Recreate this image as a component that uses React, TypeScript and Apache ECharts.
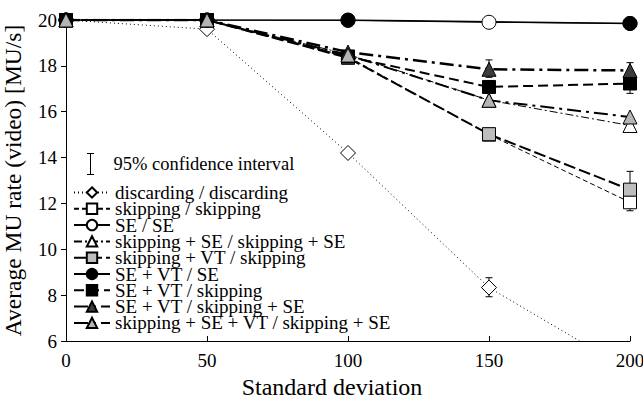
import React, { useEffect, useRef } from "react";
import * as echarts from "echarts";

const xValues = [0, 50, 100, 150, 200];
const xTicks = [0, 50, 100, 150, 200];
const yTicks = [6, 8, 10, 12, 14, 16, 18, 20];

const discarding = [20, 19.6, 14.2, 8.33, 4.7];
const skipping = [20, 20, 18.4, 15.0, 12.05];
const seSe = [20, 20, 19.98, 19.9, 19.85];
const skipSe = [20, 20, 18.5, 16.5, 15.4];
const skipVt = [20, 20, 18.35, 15.02, 12.6];
const seVtSe = [20, 20, 20, null, 19.85];
const seVtSkip = [20, 20, 18.4, 17.08, 17.23];
const seVtSkipSe = [20, 20, 18.6, 17.85, 17.8];
const skipSeVt = [20, 20, 18.47, 16.5, 15.77];

// [x, low, high]
const confidence = [
  [150, 7.93, 8.76],
  [200, 11.8, 13.4],
  [200, 11.68, 12.45],
  [200, 16.8, 17.65],
  [200, 17.45, 18.14],
  [150, 17.5, 18.26],
  [150, 16.8, 17.35],
];

const seriesNames = [
  "discarding / discarding",
  "skipping / skipping",
  "SE / SE",
  "skipping + SE / skipping + SE",
  "skipping + VT / skipping",
  "SE + VT / SE",
  "SE + VT / skipping",
  "SE + VT / skipping + SE",
  "skipping + SE + VT / skipping + SE",
];
const ciName = "95% confidence interval";

const FONT = "Liberation Serif";

export default function App() {
  const ref = useRef<HTMLDivElement>(null);
  useEffect(() => {
    if (!ref.current) return;
    const chart = echarts.init(ref.current, undefined, { renderer: "svg" });
    const pairs = (vals: (number | null)[]) => xValues.map((x, i) => [x, vals[i]]);
    const mk = (
      name: string,
      vals: (number | null)[],
      symbol: string,
      size: number,
      fill: string,
      line: any
    ) => ({
      name,
      type: "line",
      data: pairs(vals),
      symbol,
      symbolSize: size,
      connectNulls: true,
      itemStyle: { color: fill, borderColor: "#000", borderWidth: 1, opacity: 1 },
      lineStyle: { color: "#000", ...line },
      z: 3,
    });
    const option: any = {
      animation: false,
      backgroundColor: "#fff",
      textStyle: { fontFamily: FONT, color: "#000" },
      grid: {
        left: 66,
        right: 13,
        top: 20,
        bottom: 58,
        containLabel: false,
        outerBoundsMode: "none",
      },
      xAxis: {
        type: "value",
        min: 0,
        max: 200,
        interval: 50,
        name: "Standard deviation",
        nameLocation: "middle",
        nameGap: 31,
        nameTextStyle: { fontFamily: FONT, fontSize: 24, color: "#000", padding: [0, 32, 0, 0] },
        axisLine: { show: true, lineStyle: { color: "#000", width: 1 } },
        axisTick: { show: true, inside: true, length: 5, lineStyle: { color: "#000" } },
        axisLabel: {
          fontFamily: FONT,
          fontSize: 19,
          color: "#000",
          margin: 10,
          formatter: (v: number) => (xTicks.includes(v) ? String(v) : ""),
        },
        splitLine: { show: false },
      },
      yAxis: {
        type: "value",
        min: 6,
        max: 20,
        interval: 2,
        name: "Average MU rate (video) [MU/s]",
        nameLocation: "middle",
        nameGap: 41,
        nameTextStyle: { fontFamily: FONT, fontSize: 23.5, color: "#000" },
        axisLine: { show: true, lineStyle: { color: "#000", width: 1 } },
        axisTick: { show: true, inside: false, length: 5, lineStyle: { color: "#000" } },
        axisLabel: {
          fontFamily: FONT,
          fontSize: 19,
          color: "#000",
          margin: 9,
          formatter: (v: number) => (yTicks.includes(v) ? String(v) : ""),
        },
        splitLine: { show: false },
      },
      legend: [
        {
          data: [
            {
              name: ciName,
              icon: "path://M0,0H7V1H4V21H7V22H0V21H3V1H0Z",
            },
          ],
          orient: "vertical",
          left: 87,
          top: 153,
          padding: 0,
          itemWidth: 36,
          itemHeight: 22,
          itemGap: 0,
          itemTextGap: 5,
          selectedMode: false,
          textStyle: { fontFamily: FONT, fontSize: 18.5, color: "#000" },
        },
        {
          data: seriesNames,
          orient: "vertical",
          left: 73,
          top: 183,
          padding: 0,
          itemWidth: 36,
          itemHeight: 13,
          itemGap: -2.7,
          itemTextGap: 5,
          selectedMode: false,
          textStyle: { fontFamily: FONT, fontSize: 19, color: "#000" },
        },
      ],
      series: [
        {
          name: ciName,
          type: "custom",
          data: confidence,
          encode: { x: 0, y: [1, 2] },
          itemStyle: { color: "#000" },
          z: 2,
          renderItem: (params: any, api: any) => {
            const x = api.value(0);
            const lo = api.coord([x, api.value(1)]);
            const hi = api.coord([x, api.value(2)]);
            const st = { stroke: "#000", lineWidth: 1 };
            return {
              type: "group",
              children: [
                { type: "line", shape: { x1: lo[0], y1: lo[1], x2: hi[0], y2: hi[1] }, style: st },
                { type: "line", shape: { x1: lo[0] - 3.5, y1: lo[1], x2: lo[0] + 3.5, y2: lo[1] }, style: st },
                { type: "line", shape: { x1: hi[0] - 3.5, y1: hi[1], x2: hi[0] + 3.5, y2: hi[1] }, style: st },
              ],
            };
          },
        },
        mk(seriesNames[0], discarding, "diamond", 15, "#fff", { width: 1, type: [1, 3] }),
        mk(seriesNames[1], skipping, "rect", 13, "#fff", { width: 1, type: [5, 3] }),
        mk(seriesNames[2], seSe, "circle", 14, "#fff", { width: 1, type: "solid" }),
        mk(seriesNames[3], skipSe, "triangle", 14, "#fff", { width: 1, type: [8, 3, 2, 3] }),
        mk(seriesNames[4], skipVt, "rect", 13, "#bdbdbd", { width: 2, type: [12, 4] }),
        mk(seriesNames[5], seVtSe, "circle", 14, "#000", { width: 1.5, type: "solid" }),
        mk(seriesNames[6], seVtSkip, "rect", 13, "#000", { width: 2, type: [10, 5] }),
        mk(seriesNames[7], seVtSkipSe, "triangle", 14, "#3c3c3c", { width: 2.5, type: [14, 5, 3, 5] }),
        mk(seriesNames[8], skipSeVt, "triangle", 14, "#b4b4b4", { width: 2, type: [14, 5, 3, 5] }),
      ],
    };
    chart.setOption(option);
    return () => chart.dispose();
  }, []);
  return (
    <div
      ref={ref}
      style={{ position: "fixed", left: 0, top: 0, width: 643, height: 399, background: "#fff" }}
    />
  );
}
